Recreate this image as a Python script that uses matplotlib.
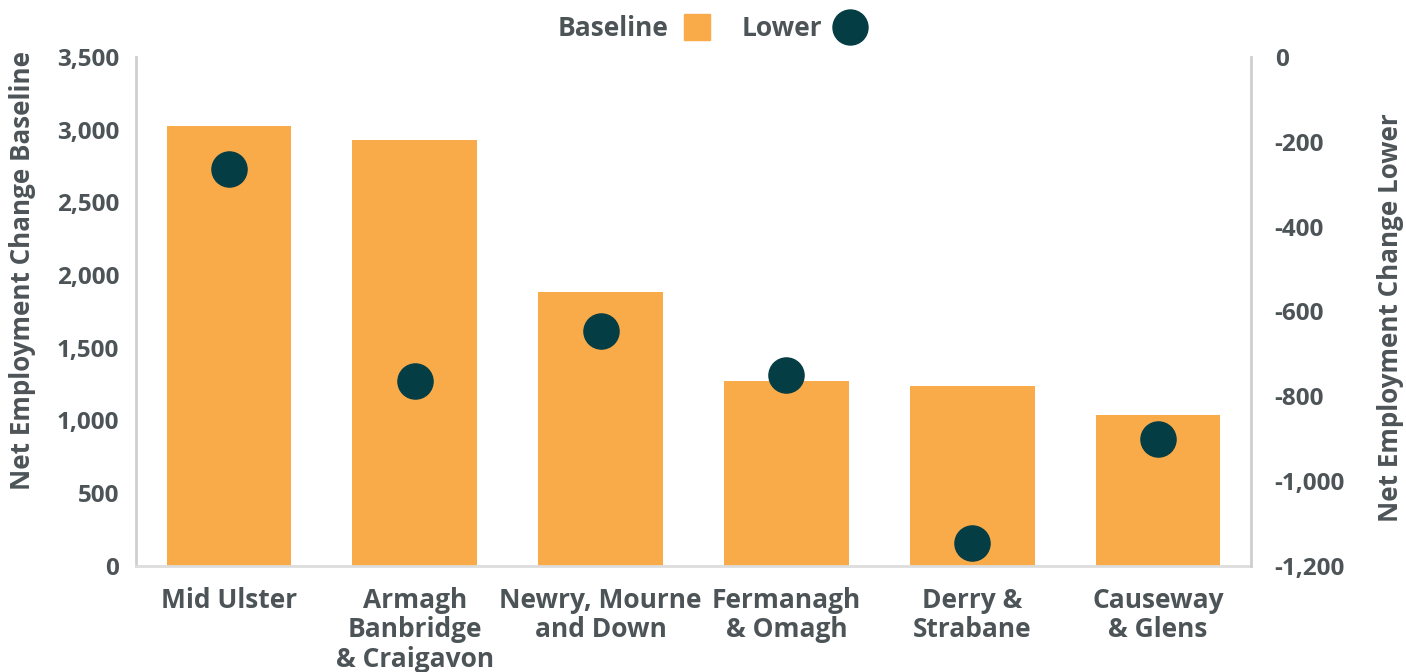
import matplotlib
matplotlib.use("Agg")
import matplotlib.pyplot as plt
from matplotlib.lines import Line2D
from matplotlib.ticker import FuncFormatter, MultipleLocator

categories = ["Mid Ulster", "Armagh\nBanbridge\n& Craigavon", "Newry, Mourne\nand Down",
              "Fermanagh\n& Omagh", "Derry &\nStrabane", "Causeway\n& Glens"]
baseline = [3025, 2930, 1885, 1272, 1238, 1038]
lower = [-264, -764, -646, -750, -1146, -901]

BAR = "#F9AB4A"
DOT = "#053D45"
TXT = "#4D5457"
AX = "#CFCFCF"
FS = 17.5

plt.rcParams['font.family'] = ['Open Sans', 'DejaVu Sans']
plt.rcParams['font.weight'] = 'bold'

fig = plt.figure(figsize=(14.06, 6.72), dpi=100)
ax = fig.add_axes([0.0967, 0.158, 0.7931, 0.757])
ax2 = ax.twinx()

x = list(range(len(categories)))
ax.bar(x, baseline, width=0.67, color=BAR, zorder=2)
ax2.scatter(x, lower, s=640, color=DOT, zorder=3)

ax.set_xlim(-0.5, len(categories) - 0.5)
ax.set_ylim(0, 3500)
ax.yaxis.set_major_locator(MultipleLocator(500))
ax.yaxis.set_major_formatter(FuncFormatter(lambda v, p: f"{int(v):,}"))
ax2.set_ylim(-1200, 0)
ax2.yaxis.set_major_locator(MultipleLocator(200))
ax2.yaxis.set_major_formatter(FuncFormatter(lambda v, p: f"{int(v):,}"))

for a, pad in ((ax, 12), (ax2, 17)):
    a.spines["top"].set_visible(False)
    a.tick_params(axis='y', length=0, labelsize=FS, labelcolor=TXT, pad=pad)
    for lbl in a.get_yticklabels():
        lbl.set_fontweight('bold')
ax.spines["right"].set_visible(False)
ax2.spines["left"].set_visible(False)
ax2.spines["bottom"].set_visible(False)
ax.spines["left"].set_color(AX)
ax.spines["left"].set_linewidth(2)
ax2.spines["right"].set_color(AX)
ax2.spines["right"].set_linewidth(2)
ax.spines["bottom"].set_color("#DDDDDD")
ax.spines["bottom"].set_linewidth(2)

ax.set_xticks(x)
ax.set_xticklabels(categories, fontsize=19, color=TXT, linespacing=1.12, fontweight='bold')
ax.tick_params(axis='x', length=0, pad=15)

fig.text(23 / 1406, 1 - 270 / 672, "Net Employment Change Baseline", rotation=90,
         ha='center', va='center', fontsize=18.7, color=TXT, fontweight='bold')
fig.text(1390 / 1406, 1 - 318 / 672, "Net Employment Change Lower", rotation=90,
         ha='center', va='center', fontsize=18.7, color=TXT, fontweight='bold')

handles = [Line2D([], [], marker='s', linestyle='None', markersize=19.4, color=BAR, label="Baseline"),
           Line2D([], [], marker='o', linestyle='None', markersize=25.2, color=DOT, label="Lower")]
fig.legend(handles=handles, loc="center", bbox_to_anchor=(0.507, 0.957), ncol=2, frameon=False,
           markerfirst=False, prop={'size': 19, 'weight': 'bold'}, labelcolor=TXT,
           handlelength=1.35, handletextpad=0.4, columnspacing=1.0)

fig.savefig("out.png", dpi=100)
